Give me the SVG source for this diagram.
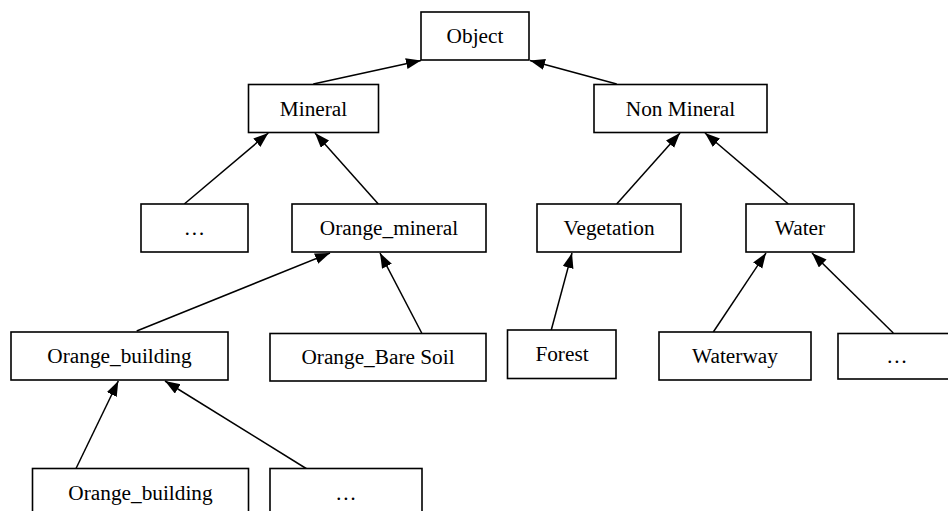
<svg xmlns="http://www.w3.org/2000/svg" width="948" height="511" viewBox="0 0 948 511">
<style>
.box{fill:#fff;stroke:#000;stroke-width:1.6}
.lbl{font-family:"Liberation Serif","Times New Roman",serif;font-size:21.3px;fill:#000;text-anchor:middle}
.edge{stroke:#000;stroke-width:1.5;fill:none;marker-end:url(#ah)}
</style>
<defs>
<marker id="ah" markerUnits="userSpaceOnUse" markerWidth="16" markerHeight="12" refX="15" refY="5.5" orient="auto" viewBox="0 0 16 12">
<path d="M0,0 L15,5.5 L0,11 z" fill="#000"/>
</marker>
</defs>
<rect width="948" height="511" fill="#fff"/>
<g id="connectors">
<line class="edge" x1="313.3" y1="84" x2="421" y2="60.5"/>
<line class="edge" x1="616.7" y1="84" x2="530" y2="60.5"/>
<line class="edge" x1="184.3" y1="204" x2="268.3" y2="133"/>
<line class="edge" x1="378.3" y1="204" x2="315" y2="133"/>
<line class="edge" x1="616.7" y1="204" x2="680" y2="133"/>
<line class="edge" x1="788.3" y1="204" x2="705" y2="133"/>
<line class="edge" x1="136.7" y1="331" x2="330" y2="253"/>
<line class="edge" x1="421.7" y1="333" x2="380" y2="253"/>
<line class="edge" x1="551" y1="331" x2="572" y2="253"/>
<line class="edge" x1="713.3" y1="332" x2="766" y2="253"/>
<line class="edge" x1="893.3" y1="333" x2="812" y2="253"/>
<line class="edge" x1="76" y1="468.5" x2="118.3" y2="381"/>
<line class="edge" x1="315" y1="474" x2="165" y2="381"/>
</g>
<g id="object"><rect class="box" x="421" y="12" width="108" height="48"/><text class="lbl" x="475" y="43">Object</text></g>
<g id="mineral"><rect class="box" x="248.5" y="84.5" width="130" height="48"/><text class="lbl" x="313.5" y="115.5">Mineral</text></g>
<g id="non-mineral"><rect class="box" x="594" y="84.5" width="173" height="48"/><text class="lbl" x="680.5" y="115.5">Non Mineral</text></g>
<g id="mineral-other"><rect class="box" x="141" y="204" width="107" height="48"/><text class="lbl" x="194.5" y="235">…</text></g>
<g id="orange-mineral"><rect class="box" x="292" y="204" width="194" height="48"/><text class="lbl" x="389" y="235">Orange_mineral</text></g>
<g id="vegetation"><rect class="box" x="537" y="204" width="144" height="48"/><text class="lbl" x="609" y="235">Vegetation</text></g>
<g id="water"><rect class="box" x="746" y="204" width="108" height="48"/><text class="lbl" x="800" y="235">Water</text></g>
<g id="orange-building"><rect class="box" x="11" y="332" width="217" height="48"/><text class="lbl" x="119.5" y="363">Orange_building</text></g>
<g id="orange-bare-soil"><rect class="box" x="270" y="333.5" width="216" height="47.5"/><text class="lbl" x="378" y="364">Orange_Bare Soil</text></g>
<g id="forest"><rect class="box" x="507.5" y="330" width="108.5" height="48.5"/><text class="lbl" x="562" y="361">Forest</text></g>
<g id="waterway"><rect class="box" x="659" y="332" width="152" height="48"/><text class="lbl" x="735" y="363">Waterway</text></g>
<g id="water-other"><rect class="box" x="838" y="333.5" width="118" height="45.5"/><text class="lbl" x="897" y="363">…</text></g>
<g id="orange-building-2"><rect class="box" x="32.5" y="468.5" width="216" height="48"/><text class="lbl" x="140.5" y="499.5">Orange_building</text></g>
<g id="building-other"><rect class="box" x="270" y="468.5" width="152" height="48"/><text class="lbl" x="346" y="499.5">…</text></g>
</svg>
